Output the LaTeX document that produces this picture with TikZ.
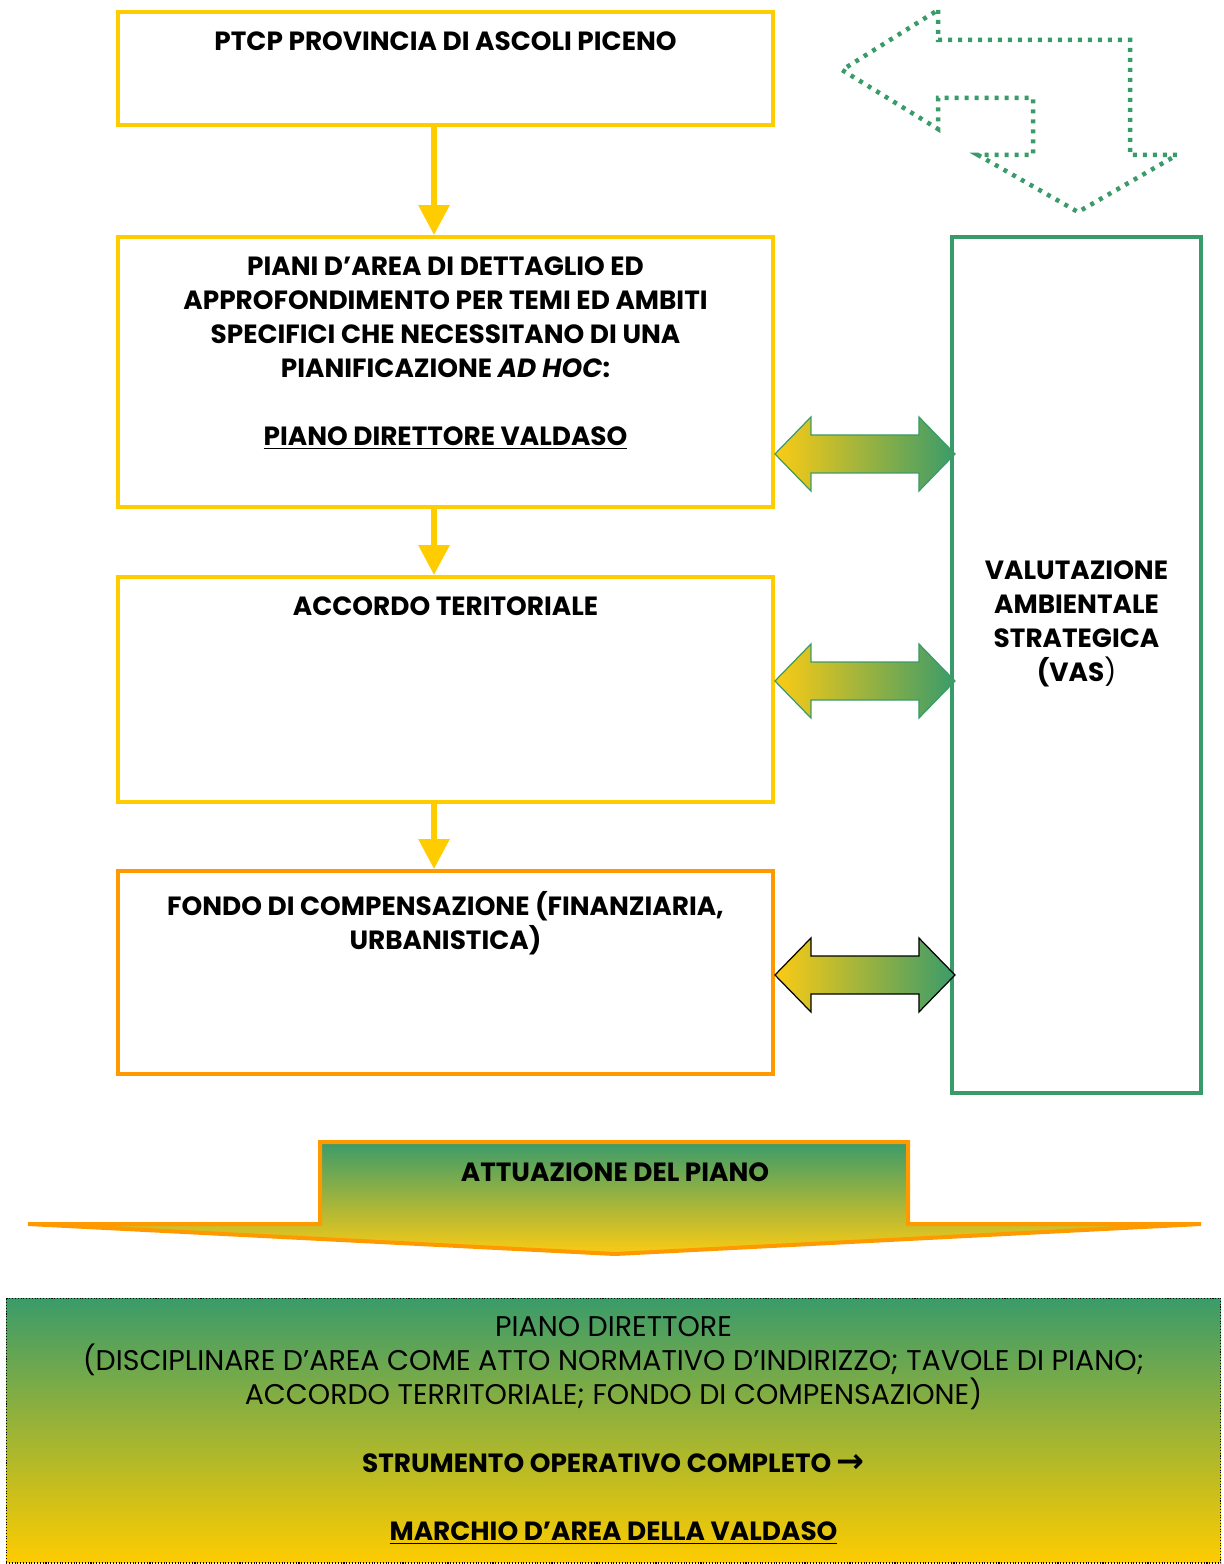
\documentclass[tikz,border=0pt]{standalone}
\usepackage{fontspec}
\setmainfont{Poppins}
\newfontfamily\arrowfont{DejaVu Sans}
\usepackage{xcolor}
\usepackage{tikz}
\usetikzlibrary{arrows.meta,positioning,calc}
\definecolor{boxyellow}{HTML}{FFCC00}
\definecolor{boxorange}{HTML}{FF9900}
\definecolor{vasgreen}{HTML}{3A9B6A}
\definecolor{linkyellow}{HTML}{FCCB14}

\tikzset{
  box/.style={draw, line width=0.08cm, minimum width=13.1cm, inner sep=0pt},
  heading/.style={font=\fontsize{15}{19.4}\selectfont\bfseries, align=center, anchor=north, inner sep=0pt},
  flow/.style={draw=boxyellow, line width=0.12cm, -{Triangle[width=0.6cm,length=0.6cm]}},
  link/.style={line width=0.7pt, line join=miter, left color=linkyellow, right color=vasgreen},
  uturn/.style={draw=vasgreen, line width=0.09cm, dash pattern=on 0.08cm off 0.12cm},
  bigarrow/.style={draw=boxorange, line width=0.08cm, top color=vasgreen, bottom color=linkyellow},
}

\begin{document}
\begin{tikzpicture}[x=0.02cm, y=-0.02cm]
  \useasboundingbox (0,0) rectangle (1223,1564);

  % left column
  \node[box, draw=boxyellow, minimum height=2.26cm] (ptcp) at (445.5,68.5) {};
  \node[heading] (ptcptxt) at (445.5,31) {PTCP PROVINCIA DI ASCOLI PICENO};

  \node[box, draw=boxyellow, minimum height=5.4cm] (piani) at (445.5,372) {};
  \node[heading] (pianitxt) at (445.5,256) {PIANI D’AREA DI DETTAGLIO ED\\APPROFONDIMENTO PER TEMI ED AMBITI\\SPECIFICI CHE NECESSITANO DI UNA\\PIANIFICAZIONE \textit{AD HOC}:\\[0.68cm]\underline{PIANO DIRETTORE VALDASO}};

  \node[box, draw=boxyellow, minimum height=4.5cm] (accordo) at (445.5,689.5) {};
  \node[heading] (accordotxt) at (445.5,596) {ACCORDO TERITORIALE};

  \node[box, draw=boxorange, minimum height=4.06cm] (fondo) at (445.5,972.5) {};
  \node[heading] (fondotxt) at (445.5,891) {FONDO DI COMPENSAZIONE (FINANZIARIA,\\URBANISTICA)};

  \draw[flow] ([xshift=-0.23cm]ptcp.south) -- ([xshift=-0.23cm]piani.north);
  \draw[flow] ([xshift=-0.23cm]piani.south) -- ([xshift=-0.23cm]accordo.north);
  \draw[flow] ([xshift=-0.23cm]accordo.south) -- ([xshift=-0.23cm]fondo.north);

  % VAS
  \node[draw=vasgreen, line width=0.07cm, minimum width=4.98cm, minimum height=17.12cm, inner sep=0pt] (vas) at (1076.5,665) {};
  \node[heading] (vastxt) at (1076.5,560) {VALUTAZIONE\\AMBIENTALE\\STRATEGICA\\(VAS\textmd{)}};

  % double arrows between boxes and VAS
  \draw[link, draw=vasgreen] ([yshift=-1.64cm]piani.east) -- ++(36,-37) -- ++(0,18) -- ++(108,0) -- ++(0,-18) -- ++(36,37) -- ++(-36,37) -- ++(0,-18) -- ++(-108,0) -- ++(0,18) -- cycle;
  \draw[link, draw=vasgreen] ([yshift=0.17cm]accordo.east) -- ++(36,-37) -- ++(0,18) -- ++(108,0) -- ++(0,-18) -- ++(36,37) -- ++(-36,37) -- ++(0,-18) -- ++(-108,0) -- ++(0,18) -- cycle;
  \draw[link, draw=black] ([yshift=-0.05cm]fondo.east) -- ++(36,-37) -- ++(0,18) -- ++(108,0) -- ++(0,-18) -- ++(36,37) -- ++(-36,37) -- ++(0,-18) -- ++(-108,0) -- ++(0,18) -- cycle;

  % u-turn arrow
  \draw[uturn] (938,10) -- (938,40) -- (1130,40) -- (1130,155) -- (1177,155) -- (1078,212) -- (978,155) -- (1033,155) -- (1033,98) -- (938,98) -- (938,129) -- (842,70) -- cycle;

  % attuazione
  \draw[bigarrow] (320,1142) -- (908,1142) -- (908,1224) -- (1201,1224) -- (615,1254) -- (28,1224) -- (320,1224) -- cycle;
  \node[heading] (attuazione) at (615,1162) {ATTUAZIONE DEL PIANO};

  \node[draw=black, densely dotted, line width=0.6pt, top color=vasgreen, bottom color=boxyellow, minimum width=24.3cm, minimum height=5.3cm, inner sep=0pt, align=center, font=\fontsize{16.2}{19.4}\selectfont] (piano) at (613.5,1430.5) {PIANO DIRETTORE\\(DISCIPLINARE D’AREA COME ATTO NORMATIVO D’INDIRIZZO; TAVOLE DI PIANO;\\ACCORDO TERRITORIALE; FONDO DI COMPENSAZIONE)\\[0.68cm]\fontsize{15}{19.4}\selectfont\textbf{STRUMENTO OPERATIVO COMPLETO {\arrowfont\bfseries\fontsize{19}{19.4}\selectfont →}}\\[0.68cm]\fontsize{15}{19.4}\selectfont\textbf{\underline{MARCHIO D’AREA DELLA VALDASO}}};
\end{tikzpicture}
\end{document}
